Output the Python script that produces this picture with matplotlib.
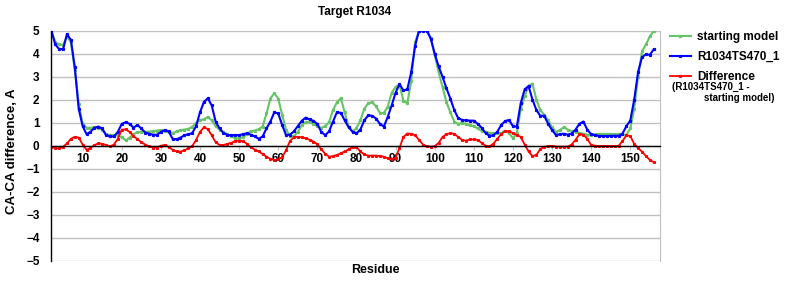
import numpy as np
import matplotlib
matplotlib.use('Agg')
import matplotlib.pyplot as plt


residues = list(range(2, 157))

starting_model = [
    5.0, 4.5, 4.4, 4.38, 4.75, 4.5, 3.3, 1.8, 0.95,                      # 2-10
    0.78, 0.78, 0.8, 0.77, 0.7, 0.5, 0.47, 0.47, 0.45, 0.37,              # 11-20
    0.23, 0.35, 0.5, 0.58, 0.61, 0.61, 0.61, 0.63, 0.66, 0.68,            # 21-30
    0.63, 0.58, 0.54, 0.62, 0.68, 0.7, 0.73, 0.82, 0.98, 1.12,            # 31-40
    1.14, 1.25, 1.1, 0.85, 0.7, 0.6, 0.5, 0.4, 0.33, 0.32,                # 41-50
    0.36, 0.5, 0.63, 0.66, 0.72, 0.83, 1.4, 2.05, 2.28, 2.05,             # 51-60
    1.35, 0.68, 0.44, 0.4, 0.6, 0.88, 1.02, 1.04, 0.95, 0.85,             # 61-70
    0.77, 0.85, 1.02, 1.55, 1.88, 2.06, 1.45, 0.83, 0.63, 0.75,           # 71-80
    1.1, 1.6, 1.85, 1.88, 1.72, 1.42, 1.42, 1.7, 2.3, 2.55,               # 81-90
    2.65, 1.95, 1.85, 2.8, 4.5, 5.0, 5.0, 5.0, 4.7, 3.95,                 # 91-100
    3.2, 2.55, 1.9, 1.45, 1.05, 0.94, 1.0, 0.95, 0.88, 0.85,              # 101-110
    0.75, 0.64, 0.6, 0.55, 0.54, 0.54, 0.55, 0.65, 0.55, 0.32,            # 111-120
    0.55, 1.6, 2.15, 2.6, 2.7, 2.0, 1.55, 1.35, 1.1, 0.8,                 # 121-130
    0.6, 0.68, 0.8, 0.7, 0.64, 0.6, 0.56, 0.52, 0.48, 0.47,               # 131-140
    0.5, 0.51, 0.51, 0.51, 0.51, 0.5, 0.5, 0.49, 0.47, 0.75,              # 141-150
    1.6, 3.0, 4.1, 4.4, 4.75, 5.0,                                        # 151-156
]

model_470 = [
    5.0, 4.4, 4.2, 4.2, 4.85, 4.6, 3.4, 1.6, 0.85,                        # 2-10
    0.5, 0.6, 0.78, 0.83, 0.75, 0.45, 0.4, 0.4, 0.6, 0.95,                # 11-20
    1.02, 0.95, 0.78, 0.9, 0.75, 0.57, 0.52, 0.48, 0.47, 0.6,             # 21-30
    0.68, 0.62, 0.3, 0.28, 0.35, 0.45, 0.5, 0.54, 0.85, 1.45,             # 31-40
    1.9, 2.06, 1.75, 1.05, 0.75, 0.55, 0.47, 0.46, 0.46, 0.46,            # 41-50
    0.5, 0.54, 0.48, 0.4, 0.3, 0.4, 0.75, 1.05, 1.45, 1.4,                # 51-60
    0.9, 0.46, 0.48, 0.62, 0.85, 1.08, 1.22, 1.14, 1.08, 0.95,            # 61-70
    0.6, 0.46, 0.62, 1.05, 1.45, 1.43, 1.1, 0.8, 0.6, 0.54,               # 71-80
    0.7, 1.1, 1.32, 1.3, 1.18, 0.95, 0.83, 1.25, 1.75, 2.3,               # 81-90
    2.68, 2.4, 2.45, 3.2, 4.35, 5.0, 5.0, 5.0, 4.65, 4.0,                 # 91-100
    3.45, 3.0, 2.5, 2.05, 1.55, 1.2, 1.12, 1.1, 1.09, 1.09,               # 101-110
    0.95, 0.78, 0.55, 0.43, 0.45, 0.6, 0.9, 1.07, 1.12, 0.85,             # 111-120
    0.83, 1.85, 2.45, 2.59, 2.0, 1.55, 1.3, 1.3, 0.95, 0.68,              # 121-130
    0.46, 0.5, 0.52, 0.48, 0.53, 0.7, 0.95, 1.05, 0.7, 0.5,               # 131-140
    0.45, 0.43, 0.42, 0.42, 0.43, 0.43, 0.43, 0.52, 0.85, 1.09,           # 141-150
    2.0, 3.2, 3.85, 3.97, 3.95, 4.19,                                     # 151-156
]

difference = [
    -0.05, -0.1, -0.12, -0.05, 0.1, 0.3, 0.39, 0.35, 0.05,                # 2-10
    -0.18, -0.1, 0.02, 0.1, 0.08, 0.03, -0.03, 0.05, 0.3, 0.7,            # 11-20
    0.71, 0.6, 0.42, 0.28, 0.15, 0.05, -0.03, -0.08, -0.08, 0.0,          # 21-30
    0.03, -0.05, -0.18, -0.25, -0.26, -0.2, -0.12, -0.02, 0.25, 0.6,      # 31-40
    0.8, 0.72, 0.45, 0.15, 0.03, 0.03, 0.08, 0.13, 0.2, 0.22,             # 41-50
    0.2, 0.08, -0.07, -0.17, -0.25, -0.36, -0.48, -0.57, -0.62, -0.6,     # 51-60
    -0.5, -0.2, 0.2, 0.37, 0.39, 0.36, 0.32, 0.26, 0.18, 0.06,            # 61-70
    -0.15, -0.35, -0.48, -0.45, -0.4, -0.33, -0.25, -0.16, -0.06, -0.06,  # 71-80
    -0.25, -0.38, -0.43, -0.43, -0.43, -0.45, -0.48, -0.55, -0.59, -0.52, # 81-90
    -0.1, 0.38, 0.53, 0.52, 0.46, 0.25, 0.05, -0.03, -0.04, -0.02,        # 91-100
    0.12, 0.38, 0.5, 0.54, 0.52, 0.38, 0.25, 0.22, 0.27, 0.27,            # 101-110
    0.25, 0.12, 0.0, -0.03, 0.08, 0.3, 0.5, 0.64, 0.62, 0.55,             # 111-120
    0.47, 0.38, 0.05, -0.25, -0.45, -0.4, -0.15, -0.05, -0.02, -0.01,     # 121-130
    -0.04, -0.04, -0.04, -0.04, 0.05, 0.25, 0.5, 0.48, 0.3, 0.03,         # 131-140
    0.0, -0.01, -0.01, -0.01, -0.01, -0.01, -0.01, 0.2, 0.45, 0.42,       # 141-150
    0.08, -0.1, -0.26, -0.45, -0.62, -0.72,                               # 151-156
]

x_ticks = list(range(10, 151, 10))
y_ticks = list(range(-5, 6))


# PLOTTING

plt.rcParams.update({
    'font.family': ['Liberation Sans', 'DejaVu Sans'],
    'font.weight': 'bold',
    'font.size': 8.5,
})

fig = plt.figure(figsize = (8, 3), dpi = 100)
ax = fig.add_axes([0.0634, 0.131, 0.7616, 0.7667])

ax.plot(residues, starting_model, color = '#66C466', linewidth = 1.5,
        marker = 's', markersize = 1.3, label = 'starting model')
ax.plot(residues, model_470, color = '#0000FF', linewidth = 1.5,
        marker = 's', markersize = 1.3, label = 'R1034TS470_1')
ax.plot(residues, difference, color = '#FF0000', linewidth = 1.3,
        marker = 's', markersize = 1.2, label = 'Difference')

ax.set_xlim(1.84, 157.6)
ax.set_ylim(-5, 5)
ax.set_yticks(y_ticks)
ax.set_xticks(x_ticks)
ax.grid(True, axis = 'y', color = '#C0C0C0', linewidth = 1)
ax.set_axisbelow(True)

ax.spines['bottom'].set_position(('data', 0))
ax.spines['bottom'].set_color('black')
ax.spines['bottom'].set_linewidth(1)
ax.spines['left'].set_color('black')
ax.spines['left'].set_linewidth(1)
ax.spines['top'].set_visible(False)
ax.spines['right'].set_color('#C0C0C0')

ax.tick_params(axis = 'x', length = 3, color = '#C0C0C0', pad = 2, labelsize = 8.5)
ax.tick_params(axis = 'y', length = 0, pad = 8, labelsize = 8.5)
for label in ax.get_xticklabels() + ax.get_yticklabels():
    label.set_fontweight('bold')

leg = ax.legend(loc = 'upper left', bbox_to_anchor = (1.016, 1.0), frameon = False,
                borderpad = 0, borderaxespad = 0,
                handlelength = 1.8, handletextpad = 0.5, labelspacing = 0.7,
                prop = {'weight': 'bold', 'size': 8.5})
fig.text(0.889, 1 - 87 / 300, '(R1034TS470_1 -', fontsize = 7, fontweight = 'bold',
         ha = 'center', va = 'center')
fig.text(0.924, 1 - 98 / 300, 'starting model)', fontsize = 7, fontweight = 'bold',
         ha = 'center', va = 'center')

fig.text(355 / 800, 1 - 12 / 300, 'Target R1034', ha = 'center', va = 'center',
         fontsize = 8.5, fontweight = 'bold')
fig.text(375 / 800, 1 - 270 / 300, 'Residue', ha = 'center', va = 'center',
         fontsize = 9, fontweight = 'bold')
fig.text(12 / 800, 1 - 151 / 300, 'CA-CA difference, A', ha = 'center', va = 'center',
         rotation = 90, fontsize = 9.5, fontweight = 'bold')

fig.savefig('out.png', dpi = 100)
